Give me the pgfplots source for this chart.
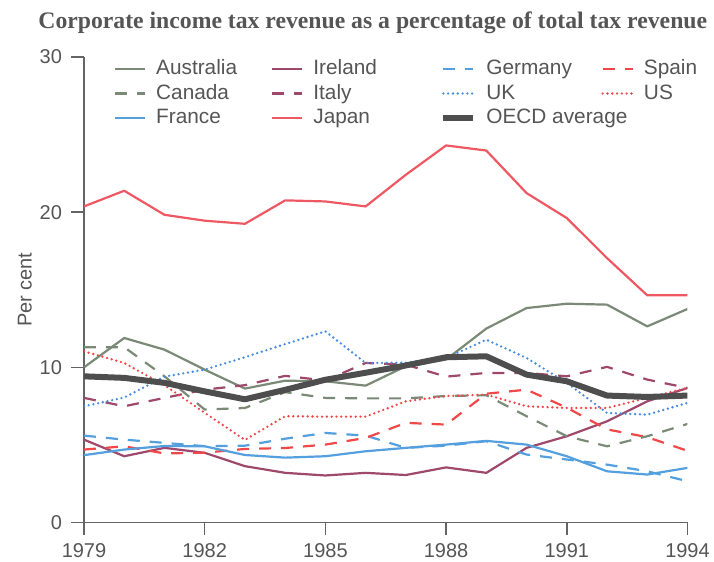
\documentclass[border=0pt]{standalone}
\usepackage{pgfplots}
\pgfplotsset{compat=1.18}
\usepackage{fontspec}
\setmainfont{Liberation Sans}
\newfontfamily\titlefont{Liberation Serif}

\definecolor{cAus}{RGB}{122,138,118}
\definecolor{cIre}{RGB}{158,72,108}
\definecolor{cFra}{RGB}{84,160,222}
\definecolor{cUK}{RGB}{72,140,226}
\definecolor{cJap}{RGB}{238,88,98}
\definecolor{cSpa}{RGB}{240,72,72}
\definecolor{cOECD}{RGB}{78,78,78}
\definecolor{axgray}{RGB}{100,100,100}
\definecolor{txtgray}{RGB}{85,85,85}

\begin{document}
\begin{tikzpicture}
\begin{axis}[
  at={(0,0)}, anchor=south west,
  scale only axis, width=301.75pt, height=232.75pt,
  xmin=1979, xmax=1994, ymin=0, ymax=30,
  axis x line=bottom, axis y line=left,
  axis line style={-, draw=axgray, line width=0.8pt},
  xtick={1979,1982,...,1994}, ytick={0,10,20,30},
  tick align=outside, major tick length=6.5pt,
  tick style={draw=axgray, line width=0.8pt},
  x tick label style={/pgf/number format/1000 sep={}, yshift=-0.5pt},
  y tick label style={xshift=-1pt},
  /pgf/number format/assume math mode=true,
  tick label style={font=\fontsize{10}{12}\selectfont, text=txtgray},
  ylabel={Per cent},
  ylabel style={font=\fontsize{10}{12}\selectfont, text=txtgray, at={(axis description cs:-0.098,0.5)}, anchor=center},
  legend columns=4,
  legend cell align=left,
  legend style={at={(axis description cs:0.0497,0.9946)}, anchor=north west, draw=none, fill=none, inner sep=0pt, outer sep=0pt, row sep=2.75pt, column sep=0pt, font=\fontsize{10.4}{12}\selectfont, nodes={inner sep=0pt, text height=7.5pt, text depth=2pt, text=txtgray}},
  legend image code/.code={\draw[#1] (0pt,0pt) -- (15pt,0pt); \path (20pt,0pt);},
  every axis plot/.append style={line width=1.1pt, line join=round},
]
% Australia
\addplot[cAus] coordinates {(1979,10.0) (1980,11.89) (1981,11.14) (1982,9.85) (1983,8.63) (1984,9.14) (1985,9.1) (1986,8.82) (1987,10.07) (1988,10.5) (1989,12.5) (1990,13.82) (1991,14.1) (1992,14.04) (1993,12.64) (1994,13.76)};
\addlegendentry{\makebox[57.5pt][l]{Australia}}
% Ireland
\addplot[cIre] coordinates {(1979,5.34) (1980,4.27) (1981,4.81) (1982,4.49) (1983,3.63) (1984,3.2) (1985,3.03) (1986,3.2) (1987,3.06) (1988,3.55) (1989,3.2) (1990,4.81) (1991,5.56) (1992,6.52) (1993,7.81) (1994,8.67)};
\addlegendentry{\makebox[63.5pt][l]{Ireland}}
% Germany
\addplot[cFra, dash pattern=on 6pt off 5pt] coordinates {(1979,5.6) (1980,5.34) (1981,5.13) (1982,4.92) (1983,4.95) (1984,5.4) (1985,5.77) (1986,5.6) (1987,4.81) (1988,4.95) (1989,5.24) (1990,4.38) (1991,4.06) (1992,3.73) (1993,3.3) (1994,2.66)};
\addlegendentry{\makebox[57.5pt][l]{Germany}}
% Spain
\addplot[cSpa, dash pattern=on 6pt off 5pt] coordinates {(1979,4.7) (1980,4.91) (1981,4.45) (1982,4.5) (1983,4.74) (1984,4.8) (1985,5.02) (1986,5.45) (1987,6.42) (1988,6.31) (1989,8.3) (1990,8.56) (1991,7.4) (1992,6.0) (1993,5.5) (1994,4.62)};
\addlegendentry{Spain}
% Canada
\addplot[cAus, dash pattern=on 6pt off 5pt] coordinates {(1979,11.3) (1980,11.3) (1981,9.42) (1982,7.28) (1983,7.38) (1984,8.4) (1985,8.03) (1986,8.0) (1987,8.0) (1988,8.15) (1989,8.2) (1990,6.85) (1991,5.56) (1992,4.91) (1993,5.56) (1994,6.35)};
\addlegendentry{\makebox[57.5pt][l]{Canada}}
% Italy
\addplot[cIre, dash pattern=on 6pt off 5pt] coordinates {(1979,8.03) (1980,7.49) (1981,8.03) (1982,8.56) (1983,8.85) (1984,9.45) (1985,9.15) (1986,10.28) (1987,10.17) (1988,9.4) (1989,9.64) (1990,9.64) (1991,9.42) (1992,10.03) (1993,9.21) (1994,8.67)};
\addlegendentry{\makebox[63.5pt][l]{Italy}}
% UK
\addplot[cUK, line width=1.3pt, line cap=round, dash pattern=on 0pt off 2.4pt] coordinates {(1979,7.49) (1980,8.05) (1981,9.4) (1982,9.85) (1983,10.65) (1984,11.5) (1985,12.32) (1986,10.28) (1987,10.3) (1988,10.6) (1989,11.78) (1990,10.6) (1991,9.0) (1992,7.06) (1993,6.95) (1994,7.71)};
\addlegendentry{\makebox[57.5pt][l]{UK}}
% US
\addplot[cSpa, line width=1.3pt, line cap=round, dash pattern=on 0pt off 2.4pt] coordinates {(1979,11.03) (1980,10.28) (1981,8.85) (1982,7.07) (1983,5.32) (1984,6.85) (1985,6.82) (1986,6.82) (1987,7.81) (1988,8.15) (1989,8.24) (1990,7.49) (1991,7.38) (1992,7.38) (1993,8.03) (1994,8.67)};
\addlegendentry{US}
% France
\addplot[cFra] coordinates {(1979,4.34) (1980,4.7) (1981,4.93) (1982,4.91) (1983,4.35) (1984,4.18) (1985,4.27) (1986,4.59) (1987,4.81) (1988,5.02) (1989,5.26) (1990,5.02) (1991,4.27) (1992,3.3) (1993,3.09) (1994,3.52)};
\addlegendentry{\makebox[57.5pt][l]{France}}
% Japan
\addplot[cJap] coordinates {(1979,20.37) (1980,21.38) (1981,19.83) (1982,19.45) (1983,19.25) (1984,20.76) (1985,20.69) (1986,20.37) (1987,22.41) (1988,24.3) (1989,23.97) (1990,21.23) (1991,19.62) (1992,17.04) (1993,14.64) (1994,14.64)};
\addlegendentry{\makebox[63.5pt][l]{Japan}}
% OECD average
\addplot[cOECD, line width=3pt] coordinates {(1979,9.42) (1980,9.32) (1981,9.0) (1982,8.45) (1983,7.94) (1984,8.55) (1985,9.2) (1986,9.65) (1987,10.12) (1988,10.65) (1989,10.71) (1990,9.53) (1991,9.1) (1992,8.18) (1993,8.09) (1994,8.18)};
\addlegendentry{\makebox[57.5pt][l]{OECD average}}
\end{axis}
\node[anchor=base west, inner sep=0pt, font=\titlefont\bfseries\fontsize{11.85}{14}\selectfont, text=txtgray] at (-23pt,247pt) {Corporate income tax revenue as a percentage of total tax revenue};
\pgfresetboundingbox
\useasboundingbox (-42pt,-19.75pt) rectangle (315pt,261.25pt);
\end{tikzpicture}
\end{document}
